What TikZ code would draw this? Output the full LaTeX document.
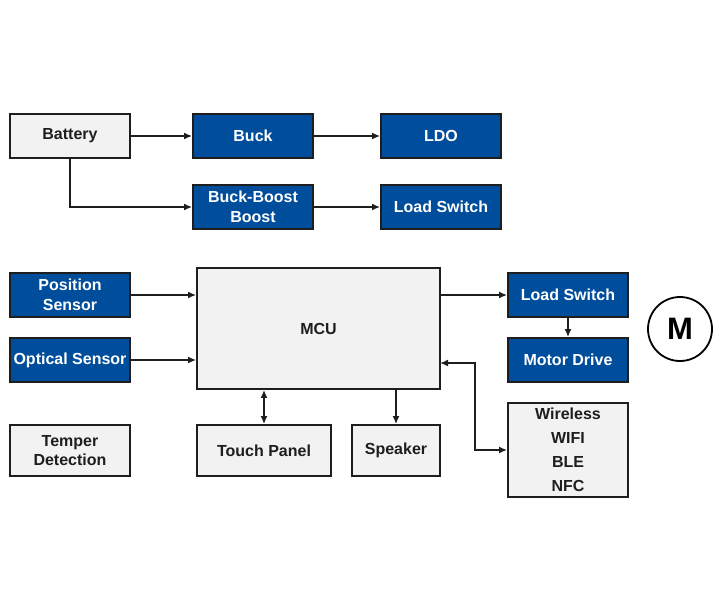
\documentclass[tikz,border=0pt]{standalone}
\usepackage{fontspec}
\setmainfont{Liberation Sans}
\usetikzlibrary{arrows.meta}
\definecolor{blkblue}{RGB}{0,78,155}
\definecolor{blkgray}{RGB}{242,242,242}
\definecolor{blkline}{RGB}{30,30,30}
\begin{document}
\begin{tikzpicture}[x=1pt,y=-1pt,
	box/.style={draw=blkline,line width=1.8pt,inner sep=0pt,align=center,
		font=\fontsize{16}{19.5}\selectfont\bfseries},
	graybox/.style={box,fill=blkgray,text=blkline},
	bluebox/.style={box,fill=blkblue,text=white},
	arr/.style={line width=1.6pt,draw=blkline,-{Latex[length=8pt,width=7pt]}},
	biarr/.style={arr,{Latex[length=8pt,width=7pt]}-{Latex[length=8pt,width=7pt]}}]
	\useasboundingbox[fill=white] (0,0) rectangle (720,600);
	% power part
	\node[graybox,minimum width=120pt,minimum height=44pt] (Battery) at (70,136) {Battery};
	\node[bluebox,minimum width=120pt,minimum height=44pt] (Buck) at (253,136) {Buck};
	\node[bluebox,minimum width=120pt,minimum height=44pt] (LDO) at (441,136) {LDO};
	\node[bluebox,minimum width=120pt,minimum height=44pt] (BuckBoost) at (253,207) {Buck-Boost\\Boost};
	\node[bluebox,minimum width=120pt,minimum height=44pt] (LoadSwTop) at (441,207) {Load Switch};
	\draw[arr] (Battery) -- (Buck);
	\draw[arr] (Buck) -- (LDO);
	\draw[arr] (Battery.south) |- (BuckBoost.west);
	\draw[arr] (BuckBoost) -- (LoadSwTop);
	% control part
	\node[graybox,minimum width=243pt,minimum height=121pt] (MCU) at (318.5,328.5) {MCU};
	\node[bluebox,minimum width=120pt,minimum height=44pt] (PosSensor) at (70,295) {Position\\Sensor};
	\node[bluebox,minimum width=120pt,minimum height=44pt] (OptSensor) at (70,360) {Optical Sensor};
	\node[graybox,minimum width=120pt,minimum height=51pt] (Temper) at (70,450.5) {Temper\\Detection};
	\node[graybox,minimum width=134pt,minimum height=51pt] (Touch) at (264,450.5) {Touch Panel};
	\node[graybox,minimum width=88pt,minimum height=51pt] (Speaker) at (396,450.5) {Speaker};
	\node[bluebox,minimum width=120pt,minimum height=44pt] (LoadSwR) at (568,295) {Load Switch};
	\node[bluebox,minimum width=120pt,minimum height=44pt] (MotorDrive) at (568,360) {Motor Drive};
	\node[graybox,minimum width=120pt,minimum height=94pt,font=\fontsize{16}{24}\selectfont\bfseries] (Wireless) at (568,450) {Wireless\\WIFI\\BLE\\NFC};
	\node[circle,draw=black,line width=1.8pt,minimum size=64pt,inner sep=0pt,
		font=\fontsize{31}{31}\selectfont\bfseries] (Motor) at (680,329) {M};
	\coordinate (mcuW) at (440,363);
	\draw[arr] (PosSensor.east) -- (PosSensor.east -| MCU.west);
	\draw[arr] (OptSensor.east) -- (OptSensor.east -| MCU.west);
	\draw[arr] (LoadSwR.west -| MCU.east) -- (LoadSwR.west);
	\draw[arr] (LoadSwR) -- (MotorDrive);
	\draw[biarr] (Touch.north |- MCU.south) -- (Touch.north);
	\draw[arr] (Speaker.north |- MCU.south) -- (Speaker.north);
	\draw[biarr] (mcuW) -- ++(35,0) |- (Wireless.west);
\end{tikzpicture}
\end{document}
